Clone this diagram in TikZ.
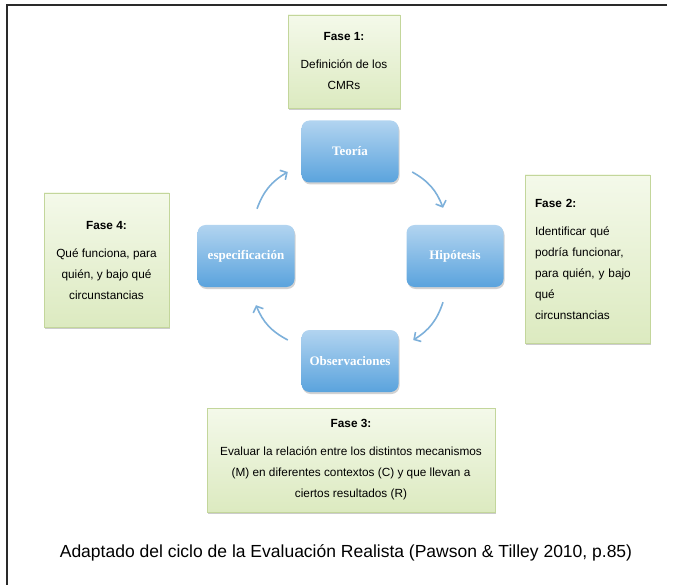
\documentclass[tikz,border=0pt]{standalone}
\usepackage{fontspec}
\setmainfont{Liberation Serif}
\newfontfamily\arialfont{Liberation Sans}
\usetikzlibrary{arrows.meta}
\usetikzlibrary{shadows}
\definecolor{faseBorder}{HTML}{C3D69B}
\definecolor{faseTop}{HTML}{F4F9EA}
\definecolor{faseBottom}{HTML}{DCEAC0}
\definecolor{cycleTop}{HTML}{B2D4F0}
\definecolor{cycleBottom}{HTML}{5AA3DD}
\definecolor{arrowBlue}{HTML}{7DB0DA}
\definecolor{frameGray}{HTML}{2A2A2A}

\begin{document}
\begin{tikzpicture}[x=1pt,y=-1pt,
        faseNode/.style = {draw=faseBorder,line width=0.8pt,top color=faseTop,bottom color=faseBottom,
            font=\arialfont\fontsize{11.8}{21}\selectfont,align=center,
            drop shadow={shadow xshift=1pt,shadow yshift=-2pt,fill=black!40,opacity=0.5}},
        cycleNode/.style = {rounded corners=8pt,top color=cycleTop,bottom color=cycleBottom,text=white,
            font=\bfseries\fontsize{13}{15}\selectfont,minimum width=97pt,minimum height=62pt,
            drop shadow={shadow xshift=1pt,shadow yshift=-2pt,fill=black!35,opacity=0.5}},
        cycleArrow/.style = {draw=arrowBlue,line width=1.6pt,-{Straight Barb[length=5pt,width=11pt]},bend left=20}
        ]
        \useasboundingbox (0,0) rectangle (677,585);
        \draw[frameGray,line width=1.3pt] (667,5) -- (7,5) -- (7,585);

        % ciclo
        \node[cycleNode] (teoria) at (350,151.5) {Teoría};
        \node[cycleNode] (hipotesis) at (455,256) {Hipótesis};
        \node[cycleNode] (observaciones) at (350,361) {Observaciones};
        \node[cycleNode] (especificacion) at (246,256) {especificación};

        % extremos de las flechas
        \coordinate (teoriaOut) at ([xshift=13.5pt,yshift=-20.5pt]teoria.east);
        \coordinate (hipotesisIn) at ([xshift=-12pt,yshift=17pt]hipotesis.north);
        \coordinate (hipotesisOut) at ([xshift=-12pt,yshift=-15pt]hipotesis.south);
        \coordinate (observacionesIn) at ([xshift=14.5pt,yshift=21pt]observaciones.east);
        \coordinate (observacionesOut) at ([xshift=-13.5pt,yshift=21pt]observaciones.west);
        \coordinate (especificacionIn) at ([xshift=10pt,yshift=-18pt]especificacion.south);
        \coordinate (especificacionOut) at ([xshift=11pt,yshift=16pt]especificacion.north);
        \coordinate (teoriaIn) at ([xshift=-13.5pt,yshift=-20.5pt]teoria.west);

        \draw[cycleArrow] (teoriaOut) to (hipotesisIn);
        \draw[cycleArrow] (hipotesisOut) to (observacionesIn);
        \draw[cycleArrow] (observacionesOut) to (especificacionIn);
        \draw[cycleArrow] (especificacionOut) to (teoriaIn);

        % fases
        \node[faseNode,minimum width=112pt,minimum height=93pt] (fase1) at (344,61.5)
            {\textbf{Fase 1:}\\[7pt]Definición de los\\CMRs};
        \node[faseNode,align=left,text width=105pt,inner xsep=10pt,minimum height=168pt] (fase2) at (587.5,259)
            {\textbf{Fase 2:}\\[7pt]Identificar qué\\podría funcionar,\\para quién, y bajo\\qué\\circunstancias};
        \node[faseNode,minimum width=288pt,minimum height=104pt] (fase3) at (351,460)
            {\textbf{Fase 3:}\\[7pt]Evaluar la relación entre los distintos mecanismos\\(M) en diferentes contextos (C) y que llevan a\\ciertos resultados (R)};
        \node[faseNode,minimum width=125pt,minimum height=134pt] (fase4) at (106.5,260)
            {\textbf{Fase 4:}\\[7pt]Qué funciona, para\\quién, y bajo qué\\circunstancias};

        \node[font=\arialfont\fontsize{17.5}{20}\selectfont] (caption) at (346,553)
            {Adaptado del ciclo de la Evaluación Realista (Pawson \& Tilley 2010, p.85)};
    \end{tikzpicture}
\end{document}
